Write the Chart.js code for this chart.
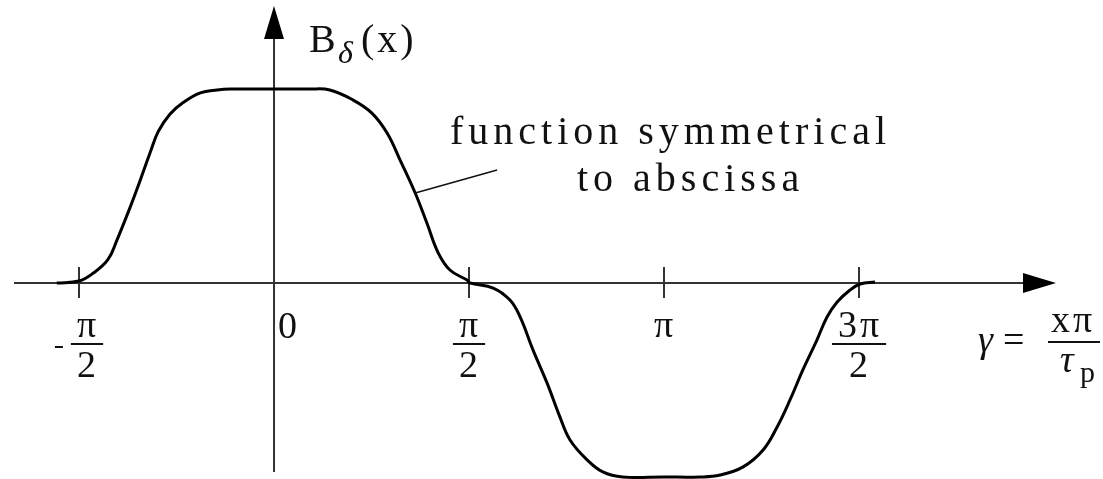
<!DOCTYPE html>
<html>
<head>
<meta charset="utf-8">
<script src="https://cdn.jsdelivr.net/npm/chart.js@4.4.1/dist/chart.umd.min.js"></script>
<style>
  html, body { margin: 0; padding: 0; background: #fff; }
  canvas { display: block; }
</style>
</head>
<body>
<canvas id="fluxChart" width="1103" height="479"></canvas>
<script>
// gamma in multiples of pi, flux density normalised to the plateau value
const gammaValues = [
  -0.557, -0.500, -0.464, -0.426, -0.403, -0.369, -0.343, -0.318, -0.297, -0.267,
  -0.233, -0.189, -0.146, -0.111, 0.000, 0.092, 0.143, 0.203, 0.251, 0.290,
  0.323, 0.362, 0.392, 0.421, 0.451, 0.495, 0.503, 0.562, 0.605, 0.631,
  0.664, 0.700, 0.733, 0.759, 0.803, 0.843, 0.894, 1.000, 1.092, 1.144,
  1.203, 1.254, 1.290, 1.323, 1.356, 1.392, 1.418, 1.444, 1.477, 1.503, 1.541
];
const fluxValues = [
  0.000, 0.010, 0.050, 0.120, 0.220, 0.390, 0.530, 0.670, 0.780, 0.870,
  0.930, 0.980, 0.995, 1.000, 1.000, 1.000, 0.995, 0.943, 0.876, 0.773,
  0.635, 0.464, 0.309, 0.155, 0.067, 0.015, 0.000, -0.026, -0.088, -0.175,
  -0.345, -0.515, -0.690, -0.809, -0.912, -0.974, -1.000, -1.000, -1.000, -0.990,
  -0.948, -0.861, -0.742, -0.603, -0.448, -0.294, -0.175, -0.098, -0.036, -0.005, 0.005
];

// abscissa ticks (multiples of pi) and their labels
const tickValues = [-0.5, 0.5, 1, 1.5];
const tickSigns = ['-', '', '', ''];
const tickNumerators = ['π', 'π', 'π', '3π'];
const tickDenominators = ['2', '2', '', '2'];

// leader line of the note: point on the curve -> end near the text
const leaderFrom = [0.362, 0.464];
const leaderTo = [0.572, 0.582];

const SERIF = '"Liberation Serif", "DejaVu Serif", serif';

function drawFraction(ctx, cx, sign, num, den) {
    ctx.font = '38px ' + SERIF;
    ctx.letterSpacing = '3px';
    const numW = ctx.measureText(num).width;
    const denW = den ? ctx.measureText(den).width : 0;
    const barW = den ? Math.max(numW, denW) + 10 : numW;
    const signW = sign ? 16 : 0;
    const left = cx - (signW + barW) / 2;
    const mid = left + signW + barW / 2;

    if (sign) ctx.fillRect(left, 346, 8, 2);
    ctx.textAlign = 'center';
    ctx.fillText(num, mid + 1, 337);
    if (den) {
        ctx.fillRect(mid - barW / 2, 343, barW, 2);
        ctx.fillText(den, mid + 1, 377);
    }
    ctx.letterSpacing = '0px';
}

const diagramPlugin = {
    id: 'diagram',
    beforeDatasetsDraw(chart) {
        const { ctx, scales: { x, y } } = chart;
        const x0 = x.getPixelForValue(0);
        const y0 = y.getPixelForValue(0);
        ctx.save();
        ctx.strokeStyle = '#333';
        ctx.fillStyle = '#000';
        ctx.lineWidth = 2;

        // abscissa with arrow
        ctx.beginPath();
        ctx.moveTo(14, y0);
        ctx.lineTo(1030, y0);
        ctx.stroke();
        ctx.beginPath();
        ctx.moveTo(1023, y0 - 10);
        ctx.lineTo(1056, y0);
        ctx.lineTo(1023, y0 + 10);
        ctx.closePath();
        ctx.fill();

        // ordinate with arrow
        ctx.beginPath();
        ctx.moveTo(x0, 472);
        ctx.lineTo(x0, 30);
        ctx.stroke();
        ctx.beginPath();
        ctx.moveTo(x0 - 10, 39);
        ctx.lineTo(x0, 6);
        ctx.lineTo(x0 + 10, 39);
        ctx.closePath();
        ctx.fill();

        // tick marks
        tickValues.forEach(v => {
            const px = x.getPixelForValue(v);
            ctx.beginPath();
            ctx.moveTo(px, y0 - 16);
            ctx.lineTo(px, y0 + 15);
            ctx.stroke();
        });
        ctx.restore();
    },
    afterDatasetsDraw(chart) {
        const { ctx, scales: { x, y } } = chart;
        const x0 = x.getPixelForValue(0);
        ctx.save();
        ctx.fillStyle = '#111';
        ctx.textBaseline = 'alphabetic';

        // tick labels
        tickValues.forEach((v, i) => {
            drawFraction(ctx, x.getPixelForValue(v), tickSigns[i], tickNumerators[i], tickDenominators[i]);
        });
        ctx.font = '38px ' + SERIF;
        ctx.textAlign = 'left';
        ctx.fillText('0', x0 + 4, 338);

        // ordinate title B_delta(x)
        ctx.font = '40px ' + SERIF;
        ctx.fillText('B', x0 + 35, 52);
        ctx.font = 'italic 32px ' + SERIF;
        ctx.fillText('δ', x0 + 64, 63);
        ctx.font = '40px ' + SERIF;
        ctx.letterSpacing = '3px';
        ctx.fillText('(x)', x0 + 87, 52);
        ctx.letterSpacing = '0px';

        // abscissa title gamma = x pi / tau_p
        ctx.font = 'italic 38px ' + SERIF;
        ctx.fillText('γ', 978, 352);
        ctx.font = '38px ' + SERIF;
        ctx.fillText('=', 1003, 352);
        ctx.fillRect(1048, 341, 52, 2);
        ctx.letterSpacing = '3px';
        ctx.fillText('xπ', 1051, 332);
        ctx.letterSpacing = '0px';
        ctx.font = 'italic 38px ' + SERIF;
        ctx.fillText('τ', 1060, 372);
        ctx.font = '30px ' + SERIF;
        ctx.fillText('p', 1080, 382);

        // note with leader line
        ctx.strokeStyle = '#111';
        ctx.lineWidth = 1.5;
        ctx.beginPath();
        ctx.moveTo(x.getPixelForValue(leaderFrom[0]), y.getPixelForValue(leaderFrom[1]));
        ctx.lineTo(x.getPixelForValue(leaderTo[0]), y.getPixelForValue(leaderTo[1]));
        ctx.stroke();

        ctx.font = '40px ' + SERIF;
        ctx.letterSpacing = '5px';
        ctx.fillText('function symmetrical', 450, 144);
        ctx.fillText('to abscissa', 577, 191);
        ctx.letterSpacing = '0px';
        ctx.restore();
    }
};

const ctx = document.getElementById('fluxChart').getContext('2d');
new Chart(ctx, {
    type: 'line',
    data: {
        datasets: [{
            data: gammaValues.map((g, i) => ({ x: g, y: fluxValues[i] })),
            borderColor: '#000',
            borderWidth: 3,
            pointRadius: 0,
            tension: 0.4,
            fill: false,
            clip: false
        }]
    },
    options: {
        responsive: false,
        animation: false,
        layout: { padding: 0 },
        plugins: {
            legend: { display: false },
            tooltip: { enabled: false }
        },
        scales: {
            x: { type: 'linear', display: false, min: -0.7026, max: 2.1256 },
            y: { type: 'linear', display: false, min: -1.0103, max: 1.4588 }
        }
    },
    plugins: [diagramPlugin]
});
</script>
</body>
</html>
